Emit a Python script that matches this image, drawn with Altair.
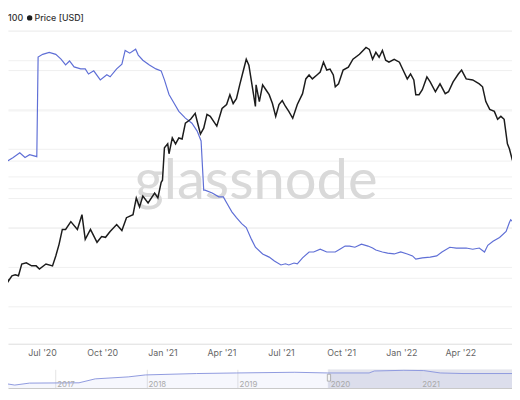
import altair as alt
import pandas as pd

# ---------------- data ----------------
START = "2020-04-28"  # day 0 of the day-offset lists below

price_day = [0, 5, 10, 12, 18, 23, 28, 33, 40, 48, 55, 60, 70, 80, 85, 90, 95, 100, 108, 118,
             125, 130, 138, 148, 155, 161, 168, 178, 186, 193, 203, 208, 213, 218, 226, 236, 241, 246, 248, 251,
             256, 258, 263, 268, 273, 278, 283, 291, 298, 301, 306, 311, 316, 321, 331, 339, 346, 351, 356, 361,
             366, 371, 376, 380, 386, 390, 391, 396, 401, 406, 411, 416, 421, 426, 431, 436, 441, 447, 454, 462,
             467, 472, 477, 484, 489, 494, 499, 504, 509, 512, 517, 524, 532, 539, 549, 559, 564, 569, 574, 579,
             584, 589, 594, 602, 610, 617, 622, 627, 632, 635, 640, 645, 652, 657, 665, 672, 680, 685, 692, 700,
             705, 712, 722, 732, 737, 742, 748, 755, 760, 765, 770, 775, 778, 782, 786]
price_usd = [211, 214, 205, 189, 205, 208, 205, 241, 245, 235, 235, 225, 241, 235, 269, 316, 388, 388, 432, 388,
             475, 338, 388, 325, 352, 348, 377, 415, 382, 456, 475, 598, 529, 614, 559, 640, 598, 742, 763, 1193,
             1259, 1099, 1366, 1259, 1366, 1347, 1673, 1766, 1916, 1719, 1442, 1564, 1890, 1839, 1607, 2050, 2164, 2478, 2194, 2348,
             2838, 3383, 4035, 3721, 2651, 2106, 2838, 2254, 2838, 2651, 2478, 2194, 1839, 2164, 2285, 2106, 1968, 1790, 2164, 2512,
             3077, 3249, 3077, 3249, 3383, 3875, 3477, 3525, 3249, 2762, 2876, 3477, 3622, 4035, 4318, 4748, 4621, 4035, 4437, 4146,
             4559, 3981, 3875, 4035, 3875, 3383, 3077, 3293, 3036, 2478, 2478, 2651, 3162, 2955, 2580, 2876, 2512, 2580, 2955, 3293,
             3477, 3077, 3036, 2876, 2762, 2254, 2022, 1968, 1766, 1839, 1766, 1259, 1177, 1027, 1100]

blue_day = [0, 8, 12, 20, 30, 38, 45, 56, 58, 65, 75, 85, 93, 100, 106, 113, 123, 130, 135, 143,
            153, 163, 168, 178, 186, 191, 198, 207, 211, 218, 228, 238, 246, 251, 258, 266, 273, 283, 293, 301,
            307, 311, 313, 324, 334, 341, 346, 354, 361, 369, 376, 384, 390, 401, 411, 419, 429, 436, 441, 449,
            454, 462, 472, 479, 489, 499, 512, 519, 527, 534, 542, 552, 562, 569, 574, 584, 592, 602, 612, 622,
            630, 635, 645, 657, 667, 675, 687, 697, 712, 722, 732, 740, 745, 753, 763, 773, 778, 780, 783]
blue_val = [4.70, 4.65, 4.70, 4.78, 4.90, 4.78, 4.85, 4.80, 7.33, 7.40, 7.45, 7.40, 7.28, 7.13, 7.23, 7.08, 7.03, 7.03, 6.90, 6.98,
            6.75, 6.88, 6.83, 7.03, 7.15, 7.50, 7.43, 7.53, 7.38, 7.25, 7.13, 7.03, 6.98, 6.75, 6.38, 6.15, 5.95, 5.78, 5.65, 5.45,
            5.20, 3.95, 3.95, 3.88, 3.78, 3.78, 3.63, 3.40, 3.25, 3.10, 3.00, 2.70, 2.50, 2.33, 2.25, 2.15, 2.05, 2.08, 2.05, 2.10,
            2.08, 2.23, 2.38, 2.38, 2.45, 2.38, 2.38, 2.45, 2.53, 2.53, 2.50, 2.58, 2.53, 2.48, 2.43, 2.38, 2.35, 2.33, 2.38, 2.33,
            2.28, 2.20, 2.23, 2.25, 2.28, 2.38, 2.50, 2.48, 2.48, 2.45, 2.48, 2.38, 2.55, 2.65, 2.75, 2.90, 3.13, 3.20, 3.15]

nav_date = ["2016-05-26", "2016-07-23", "2016-09-20", "2017-04-06", "2017-06-10", "2017-10-20", "2017-12-28",
            "2018-07-20", "2018-12-28", "2019-08-18", "2019-12-28", "2020-06-10", "2020-07-01", "2020-10-27",
            "2021-01-15", "2021-03-22", "2021-06-21", "2022-01-04"]
nav_val = [5.3, 3.0, 5.0, 5.3, 9.3, 11.3, 13.3, 14.7, 15.3, 16.0, 15.3, 15.3, 17.3, 18.0, 17.7, 15.3, 14.7, 14.7]

nav_years = ["2017", "2018", "2019", "2020", "2021"]
x_ticks = ["2020-07-01", "2020-10-01", "2021-01-01", "2021-04-01", "2021-07-01",
           "2021-10-01", "2022-01-01", "2022-04-01"]
price_grid = [100, 200, 400, 600, 800, 1000, 2000, 4000, 6000]
blue_grid = [1, 2, 3, 4, 5, 6, 7, 8]

# ---------------- tables ----------------
start = pd.Timestamp(START)
price_df = pd.DataFrame({"date": start + pd.to_timedelta(price_day, unit="D"), "price": price_usd})
blue_df = pd.DataFrame({"date": start + pd.to_timedelta(blue_day, unit="D"), "value": blue_val})
nav_df = pd.DataFrame({"date": pd.to_datetime(nav_date), "value": nav_val})
year_df = pd.DataFrame({"date": pd.to_datetime([y + "-01-01" for y in nav_years]), "label": nav_years})


def dt(s):
    t = pd.Timestamp(s)
    return alt.DateTime(year=t.year, month=t.month, date=t.day)


x_dom = [dt("2020-05-10"), dt("2022-06-19")]
nav_dom = [dt("2016-06-26"), dt("2022-01-03")]

W, H = 512, 338
BLUE = "#5f6fd6"
FONT = "Inter"

x_enc = alt.X("date:T", title=None,
              scale=alt.Scale(domain=x_dom),
              axis=alt.Axis(values=[dt(s) for s in x_ticks], format="%b '%y", grid=False,
                            ticks=False, domainColor="#dcdcdc", labelColor="#666666",
                            labelFont=FONT, labelFontSize=9, labelPadding=5, labelFlush=False))

blue_line = alt.Chart(blue_df).mark_line(color=BLUE, strokeWidth=1.2, clip=True).encode(
    x=x_enc,
    y=alt.Y("value:Q", title=None, scale=alt.Scale(domain=[0.05, 8.5], nice=False, zero=False),
            axis=alt.Axis(values=blue_grid, labels=False, ticks=False, domain=False,
                          grid=True, gridColor="#f0f0f0", orient="left")),
)

price_line = alt.Chart(price_df).mark_line(color="#1c1c1c", strokeWidth=1.5, clip=True).encode(
    x=alt.X("date:T"),
    y=alt.Y("price:Q", title=None, scale=alt.Scale(type="log", domain=[80.5, 7836], nice=False),
            axis=alt.Axis(values=price_grid, labels=False, ticks=False, domain=False,
                          grid=True, gridColor="#f0f0f0", orient="right")),
)

watermark = alt.Chart(pd.DataFrame({"t": ["glassnode"]})).mark_text(
    font="Lato", fontSize=57, color="#d9d9d9", align="center", baseline="alphabetic"
).encode(x=alt.value(252), y=alt.value(191), text="t:N")

legend_a = alt.Chart(pd.DataFrame({"t": ["100"]})).mark_text(
    font=FONT, fontSize=9, fontWeight=500, color="#333333", align="left", baseline="middle"
).encode(x=alt.value(0), y=alt.value(7), text="t:N")
legend_dot = alt.Chart(pd.DataFrame({"t": ["Price [USD]"]})).mark_point(
    filled=True, size=30, color="#1c1c1c", opacity=1
).encode(x=alt.value(22), y=alt.value(7))
legend_b = alt.Chart(pd.DataFrame({"t": ["Price [USD]"]})).mark_text(
    font=FONT, fontSize=9, fontWeight=500, color="#333333", align="left", baseline="middle"
).encode(x=alt.value(27), y=alt.value(7), text="t:N")

main = alt.layer(watermark, blue_line, price_line, legend_a, legend_dot, legend_b).resolve_scale(
    y="independent").properties(width=W, height=H)

# ---------------- navigator ----------------
nav_x = alt.X("date:T", title=None, scale=alt.Scale(domain=nav_dom),
              axis=alt.Axis(values=[dt(y + "-01-01") for y in nav_years], labels=False, ticks=False,
                            grid=True, gridColor="#e4e4e4", domainColor="#c8c8c8"))
nav_y = alt.Y("value:Q", title=None, scale=alt.Scale(domain=[0, 19], nice=False), axis=None)

sel = alt.Chart(pd.DataFrame({"a": [pd.Timestamp("2019-12-28")], "b": [pd.Timestamp("2022-01-05")]})).mark_rect(
    color="#dfe1ea", opacity=0.85, clip=True
).encode(x=alt.X("a:T", scale=alt.Scale(domain=nav_dom)), x2="b:T", y=alt.value(0), y2=alt.value(19))

nav_area = alt.Chart(nav_df).mark_area(color=BLUE, opacity=0.06, clip=True).encode(x=nav_x, y=nav_y)
nav_line = alt.Chart(nav_df).mark_line(color="#8e99de", strokeWidth=1, clip=True).encode(x="date:T", y="value:Q")

handle = alt.Chart(pd.DataFrame({"a": [pd.Timestamp("2019-12-26")], "b": [pd.Timestamp("2020-01-08")],
                                 "lo": [7], "hi": [14]})).mark_rect(
    fill="#f4f4f4", stroke="#999999", strokeWidth=0.7
).encode(x="a:T", x2="b:T", y="lo:Q", y2="hi:Q")

year_txt = alt.Chart(year_df).mark_text(
    font=FONT, fontSize=8, color="#aaaaaa", align="left", baseline="alphabetic", dx=2
).encode(x="date:T", y=alt.value(18), text="label:N")

nav = alt.layer(sel, nav_area, nav_line, handle, year_txt).properties(width=W, height=19)

chart = alt.vconcat(main, nav, spacing=12).properties(
    padding={"left": 0, "top": 0, "right": 0, "bottom": 0}, background="white"
).configure_view(strokeWidth=0)

chart.save("out.html", embed_options={"renderer": "svg", "actions": False})
